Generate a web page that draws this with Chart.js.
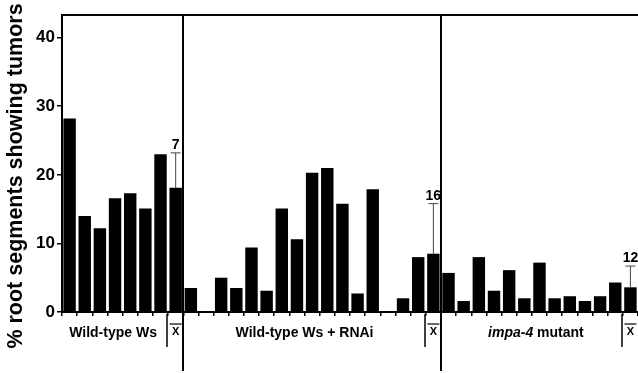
<!DOCTYPE html>
<html>
<head>
<meta charset="utf-8">
<script src="https://cdn.jsdelivr.net/npm/chart.js@4/dist/chart.umd.min.js"></script>
<style>
    html, body { margin: 0; padding: 0; background: #fff; }
    #wrap { width: 638px; height: 373px; position: relative; }
</style>
</head>
<body>
<div id="wrap"><canvas id="tumor-chart"></canvas></div>
<script>
// Per-line tumor percentages (last bar of each group is the mean)
const wildType = [28.2, 14.0, 12.2, 16.6, 17.3, 15.1, 23.0];
const wildTypeMean = 18.1;
const wildTypeErr = 23.2;

const rnai = [3.5, 0, 5.0, 3.5, 9.4, 3.1, 15.1, 10.6, 20.3, 21.0, 15.8, 2.7, 17.9, 0, 2.0, 8.0];
const rnaiMean = 8.5;
const rnaiErr = 15.8;

const impa4 = [5.7, 1.6, 8.0, 3.1, 6.1, 2.0, 7.2, 2.0, 2.3, 1.6, 2.3, 4.3];
const impa4Mean = 3.6;
const impa4Err = 6.7;

const groupNames = ['Wild-type Ws', 'Wild-type Ws + RNAi', 'impa-4 mutant'];
const yTitle = '% root segments showing tumors';
const yTicks = [0, 10, 20, 30, 40];
const yMax = 43.3;

const FONT = '"Liberation Sans", Arial, sans-serif';

// Build one long category list: each group's lines then its mean
const values = [...wildType, wildTypeMean, ...rnai, rnaiMean, ...impa4, impa4Mean];
const labels = values.map((v, i) => 'c' + i);

const meanIdx = [wildType.length, wildType.length + 1 + rnai.length, values.length - 1];
const meanErr = [wildTypeErr, rnaiErr, impa4Err];
const nLabels = [wildType.length, rnai.length, impa4.length];
const groupStart = [0, wildType.length + 1, wildType.length + rnai.length + 2];

/** Draws the axis title, frame top, group dividers, mean markers, error bars and group names */
const annotations = {
    id: 'annotations',
    afterDraw(chart) {
        const { ctx, chartArea, scales } = chart;
        const x = scales.x, y = scales.y;
        const step = (chartArea.right - chartArea.left) / values.length;
        const edge = i => chartArea.left + i * step;

        ctx.save();
        ctx.strokeStyle = '#000';
        ctx.fillStyle = '#000';

        // y axis title (placed by hand, it hangs below the axis in the original)
        ctx.save();
        ctx.translate(16, 176);
        ctx.rotate(-Math.PI / 2);
        ctx.font = 'bold 21.5px ' + FONT;
        ctx.textAlign = 'center';
        ctx.textBaseline = 'middle';
        ctx.fillText(yTitle, 0, 0);
        ctx.restore();

        // top frame line
        ctx.lineWidth = 2;
        ctx.beginPath();
        ctx.moveTo(chartArea.left - 1, chartArea.top);
        ctx.lineTo(chartArea.right, chartArea.top);
        ctx.stroke();

        // long group dividers
        [meanIdx[0] + 1, meanIdx[1] + 1].forEach(b => {
            const px = Math.round(edge(b));
            ctx.beginPath();
            ctx.moveTo(px, chartArea.top);
            ctx.lineTo(px, 371);
            ctx.stroke();
        });

        meanIdx.forEach((mi, g) => {
            const cx = x.getPixelForValue(mi);
            // short line before the mean
            ctx.lineWidth = 1.5;
            ctx.beginPath();
            ctx.moveTo(Math.round(edge(mi)) - 1, chartArea.bottom + 2);
            ctx.lineTo(Math.round(edge(mi)) - 1, chartArea.bottom + 35);
            ctx.stroke();

            // x-bar
            ctx.font = 'bold 11px ' + FONT;
            ctx.textAlign = 'center';
            ctx.textBaseline = 'middle';
            ctx.fillText('X', cx, chartArea.bottom + 20);
            ctx.lineWidth = 1.2;
            ctx.beginPath();
            ctx.moveTo(cx - 6, chartArea.bottom + 12);
            ctx.lineTo(cx + 6, chartArea.bottom + 12);
            ctx.stroke();

            // error bar
            const yBar = y.getPixelForValue(values[mi]);
            const yTop = y.getPixelForValue(meanErr[g]);
            ctx.strokeStyle = '#444';
            ctx.lineWidth = 1;
            ctx.beginPath();
            ctx.moveTo(cx, yBar);
            ctx.lineTo(cx, yTop);
            ctx.moveTo(cx - 5, yTop);
            ctx.lineTo(cx + 5, yTop);
            ctx.stroke();
            ctx.strokeStyle = '#000';

            ctx.font = 'bold 14px ' + FONT;
            ctx.textBaseline = 'alphabetic';
            ctx.fillText(String(nLabels[g]), cx, yTop - 4);
        });

        // group names
        ctx.textBaseline = 'middle';
        const ly = chartArea.bottom + 21;
        const centers = groupStart.map((s, g) => (edge(s) + edge(meanIdx[g])) / 2);
        ctx.textAlign = 'center';
        ctx.font = 'bold 14px ' + FONT;
        ctx.fillText(groupNames[0], centers[0] - 2, ly);
        ctx.fillText(groupNames[1], centers[1], ly);

        // impa-4 in italics, "mutant" upright
        const [gene, rest] = ['impa-4', ' mutant'];
        ctx.font = 'italic bold 14px ' + FONT;
        const w1 = ctx.measureText(gene).width;
        ctx.font = 'bold 14px ' + FONT;
        const w2 = ctx.measureText(rest).width;
        let start = centers[2] + 4 - (w1 + w2) / 2;
        ctx.textAlign = 'left';
        ctx.font = 'italic bold 14px ' + FONT;
        ctx.fillText(gene, start, ly);
        ctx.font = 'bold 14px ' + FONT;
        ctx.fillText(rest, start + w1, ly);

        ctx.restore();
    }
};

const chartConfig = {
    type: 'bar',
    data: {
        labels: labels,
        datasets: [{
            data: values,
            backgroundColor: '#000',
            borderWidth: 0,
            categoryPercentage: 1,
            barPercentage: 0.82
        }]
    },
    options: {
        responsive: true,
        maintainAspectRatio: false,
        animation: false,
        layout: { padding: { top: 15, right: 0, bottom: 0, left: 0 } },
        plugins: {
            legend: { display: false },
            tooltip: { enabled: false }
        },
        scales: {
            x: {
                ticks: { display: false },
                grid: {
                    offset: true,
                    drawOnChartArea: false,
                    drawTicks: true,
                    tickLength: 4,
                    color: '#000',
                    lineWidth: 1.5
                },
                border: { display: true, color: '#000', width: 2 },
                afterFit: s => { s.height = 61; }
            },
            y: {
                min: 0,
                max: yMax,
                afterBuildTicks: s => { s.ticks = yTicks.map(v => ({ value: v })); },
                ticks: {
                    color: '#000',
                    padding: 2,
                    font: { family: FONT, size: 17, weight: 'bold' }
                },
                grid: {
                    drawOnChartArea: false,
                    drawTicks: true,
                    tickLength: 5,
                    color: '#000',
                    lineWidth: 1.5
                },
                border: { display: true, color: '#000', width: 2 },
                afterFit: s => { s.width = 62; }
            }
        }
    },
    plugins: [annotations]
};

const ctx = document.getElementById('tumor-chart').getContext('2d');
new Chart(ctx, chartConfig);
</script>
</body>
</html>
